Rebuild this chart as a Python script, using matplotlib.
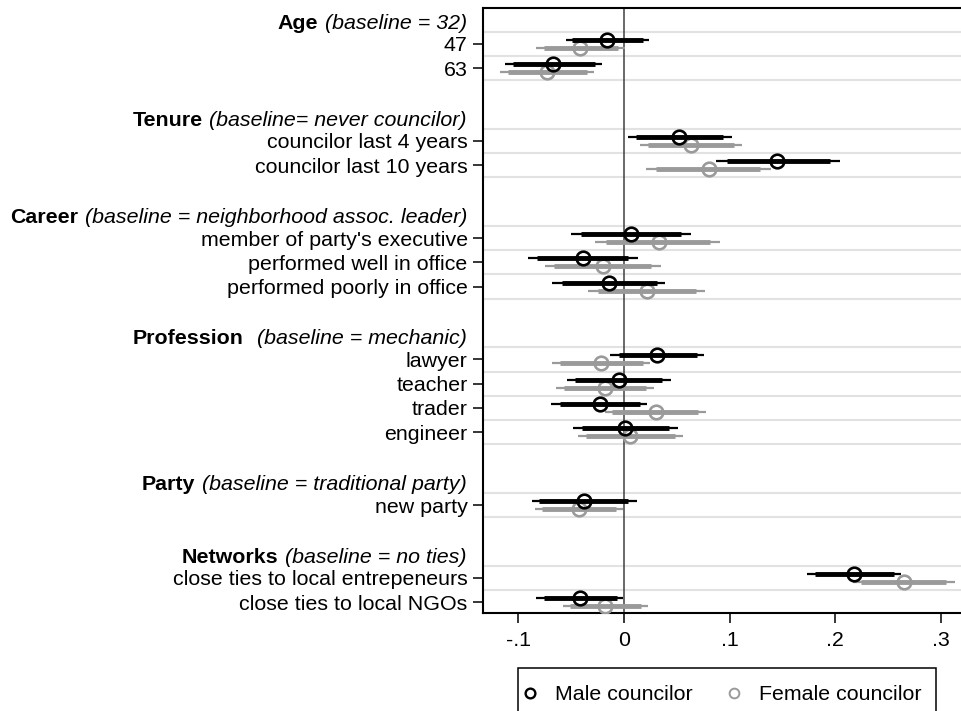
import matplotlib
matplotlib.use("Agg")
import matplotlib.pyplot as plt
import matplotlib.transforms as mtransforms
from matplotlib.lines import Line2D
from matplotlib.patches import Rectangle
import numpy as np

plt.rcParams['font.family'] = ['Liberation Sans', 'DejaVu Sans']

# group headers: bold name, italic baseline note, number of rows in group
group_names = ["Age", "Tenure", "Career", "Profession", "Party", "Networks"]
group_notes = ["(baseline = 32)", "(baseline= never councilor)",
               "(baseline = neighborhood assoc. leader)", "(baseline = mechanic)",
               "(baseline = traditional party)", "(baseline = no ties)"]
group_sizes = [2, 2, 3, 4, 1, 2]

labels = ["47", "63",
          "councilor last 4 years", "councilor last 10 years",
          "member of party's executive", "performed well in office", "performed poorly in office",
          "lawyer", "teacher", "trader", "engineer",
          "new party",
          "close ties to local entrepeneurs", "close ties to local NGOs"]

male_est = [-0.016, -0.067, 0.052, 0.145, 0.007, -0.039, -0.014, 0.031, -0.005, -0.023, 0.001, -0.038, 0.218, -0.042]
male_lo95 = [-0.055, -0.113, 0.004, 0.087, -0.050, -0.091, -0.068, -0.013, -0.054, -0.069, -0.048, -0.087, 0.173, -0.083]
male_hi95 = [0.024, -0.021, 0.102, 0.204, 0.063, 0.013, 0.039, 0.076, 0.044, 0.022, 0.051, 0.012, 0.262, -0.001]
male_lo90 = [-0.049, -0.105, 0.011, 0.097, -0.041, -0.082, -0.059, -0.005, -0.046, -0.061, -0.040, -0.080, 0.181, -0.076]
male_hi90 = [0.018, -0.027, 0.094, 0.195, 0.054, 0.004, 0.031, 0.069, 0.036, 0.015, 0.043, 0.004, 0.255, -0.007]

female_est = [-0.042, -0.073, 0.063, 0.080, 0.033, -0.020, 0.022, -0.022, -0.018, 0.030, 0.006, -0.043, 0.265, -0.018]
female_lo95 = [-0.083, -0.117, 0.015, 0.021, -0.027, -0.075, -0.034, -0.068, -0.064, -0.018, -0.044, -0.084, 0.217, -0.058]
female_hi95 = [0.001, -0.028, 0.112, 0.139, 0.091, 0.035, 0.077, 0.025, 0.028, 0.078, 0.056, -0.001, 0.313, 0.023]
female_lo90 = [-0.076, -0.110, 0.023, 0.030, -0.017, -0.066, -0.025, -0.061, -0.057, -0.011, -0.036, -0.078, 0.224, -0.051]
female_hi90 = [-0.006, -0.035, 0.104, 0.129, 0.081, 0.026, 0.068, 0.018, 0.021, 0.070, 0.048, -0.008, 0.305, 0.016]

xticks = [-0.1, 0, 0.1, 0.2, 0.3]
xticklabels = ["-.1", "0", ".1", ".2", ".3"]

fs = 15.4
male_col = "black"
female_col = "#9a9a9a"

# row layout: header row, its items, one blank row between groups
header_pos = []
rows = []
pos = 0
for n in group_sizes:
    header_pos.append(pos)
    rows.extend(range(pos + 1, pos + 1 + n))
    pos += n + 2
rows = np.array(rows, dtype=float)

fig = plt.figure(figsize=(9.61, 7.11), dpi=100)
ax = fig.add_axes([483 / 961, 98 / 711, 478 / 961, 605 / 711])
ax.set_xlim(-0.1334, 0.3188)
ax.set_ylim(rows[-1] + 0.45, -0.48)

# grid lines between rows
bounds = np.unique(np.concatenate([rows - 0.5, rows + 0.5]))
for b in bounds:
    ax.axhline(b, color="#e2e2e2", lw=1.5, zorder=0)
ax.axvline(0, color="#404040", lw=1.1, zorder=1)

off = 0.165
series = [
    (female_est, female_lo95, female_hi95, female_lo90, female_hi90, female_col, off, 2),
    (male_est, male_lo95, male_hi95, male_lo90, male_hi90, male_col, -off, 4),
]
for est, lo95, hi95, lo90, hi90, col, dy, z in series:
    y = rows + dy
    ax.hlines(y, lo95, hi95, color=col, lw=1.6, zorder=z)
    ax.hlines(y, lo90, hi90, color=col, lw=3.5, zorder=z)
    ax.plot(est, y, "o", mfc="none", mec=col, ms=9.8, mew=1.9, zorder=z + 1)

ax.set_yticks(rows)
ax.set_yticklabels(labels)
ax.set_xticks(xticks)
ax.set_xticklabels(xticklabels)
ax.tick_params(axis="y", length=7, width=1.1, pad=4, labelsize=fs)
ax.tick_params(axis="x", length=7, width=1.1, pad=6, labelsize=fs)
ax.spines["right"].set_visible(False)
for s in ["left", "top", "bottom"]:
    ax.spines[s].set_linewidth(1.5)

# group headers
trans = mtransforms.blended_transform_factory(ax.transAxes, ax.transData)
for name, note, p in zip(group_names, group_notes, header_pos):
    gap = 10 if name == "Profession" else 5
    t = ax.text(-0.0335, p + 0.37, note, transform=trans, ha="right", va="baseline",
                style="italic", fontsize=fs, clip_on=False)
    ax.annotate(name, xy=(0, p + 0.37), xycoords=(t, "data"), xytext=(-gap, 0),
                textcoords="offset points", ha="right", va="baseline",
                fontweight="bold", fontsize=fs, annotation_clip=False)

# legend
handles = [Line2D([], [], ls="none", marker="o", mfc="none", mec=male_col, ms=7, mew=1.7),
           Line2D([], [], ls="none", marker="o", mfc="none", mec=female_col, ms=7, mew=1.4)]
fig.legend(handles, ["Male councilor", "Female councilor"], loc="center left",
           bbox_to_anchor=(524.6 / 961, 1 - 695 / 711), bbox_transform=fig.transFigure,
           ncol=2, frameon=False, borderaxespad=0, borderpad=0, handlelength=0.5,
           handletextpad=0.93, columnspacing=1.66, fontsize=fs)
fig.add_artist(Rectangle((518 / 961, -0.1), (936 - 518) / 961, (1 - 668 / 711) + 0.1,
                         transform=fig.transFigure, fill=False, ec="black", lw=1.1,
                         clip_on=False))

fig.savefig("out.png", dpi=100)
